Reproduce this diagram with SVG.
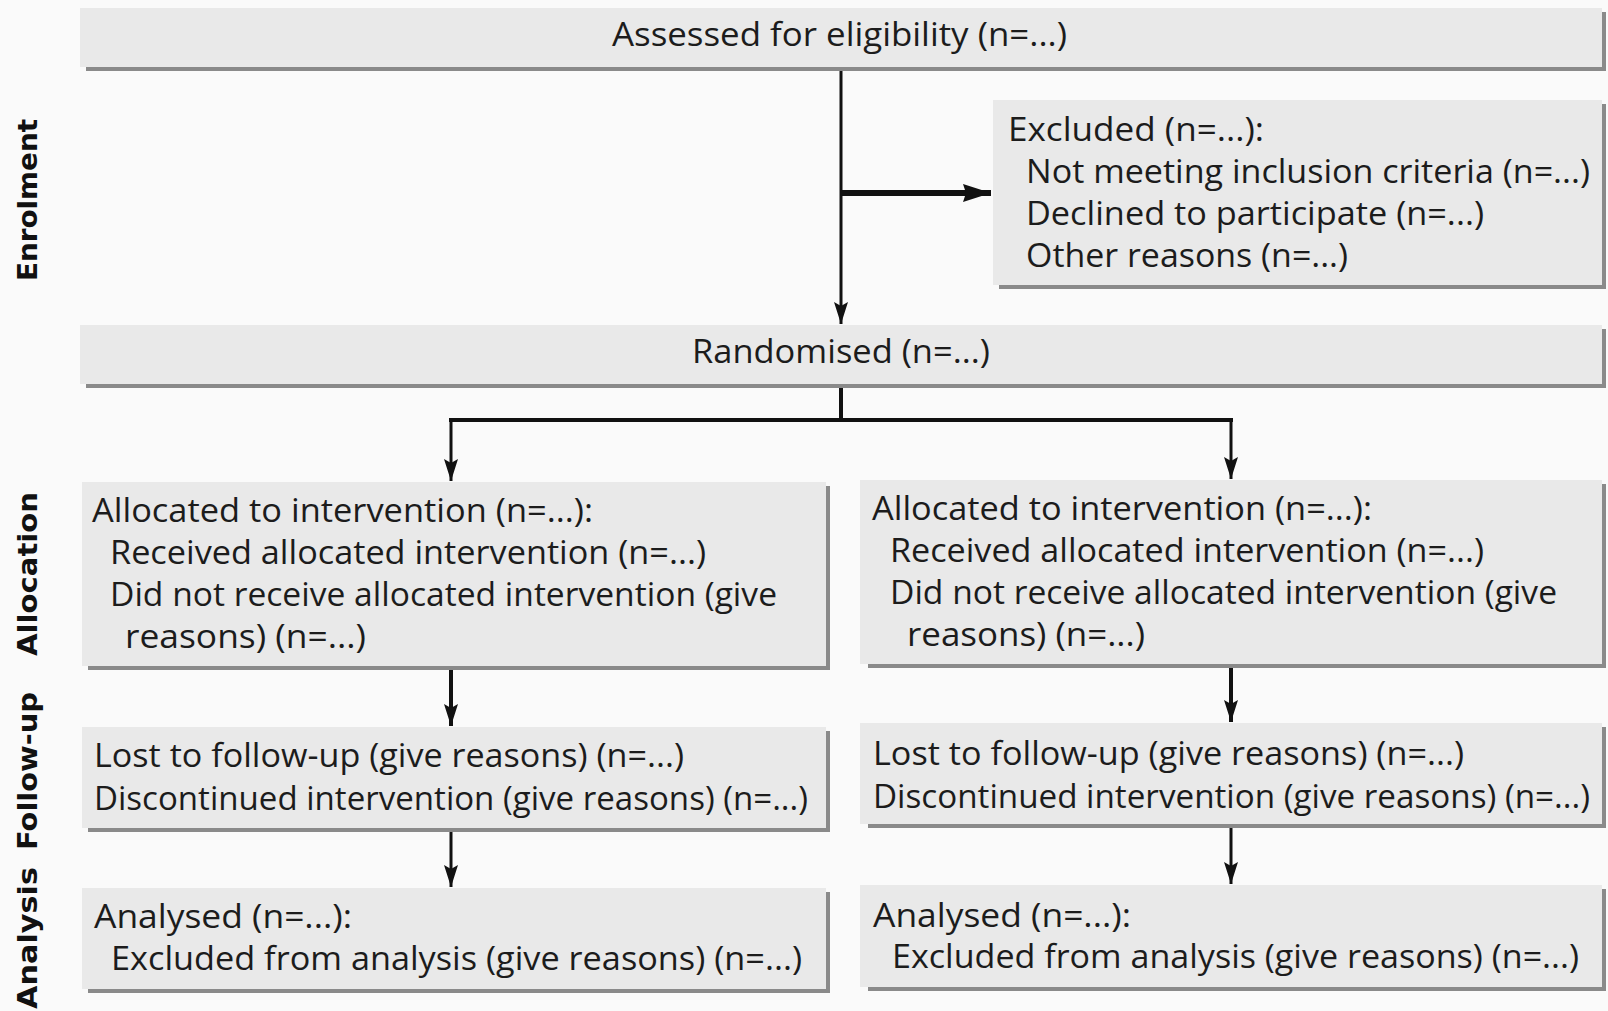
<svg xmlns="http://www.w3.org/2000/svg" width="1608" height="1011" viewBox="0 0 1608 1011">
<defs>
<marker id="ah" markerUnits="userSpaceOnUse" markerWidth="24" markerHeight="16" refX="22" refY="8" orient="auto">
<path d="M0,1 L22,8 L0,15 L4,8 Z" fill="#111"/>
</marker>
<marker id="ahb" markerUnits="userSpaceOnUse" markerWidth="30" markerHeight="20" refX="28" refY="10" orient="auto">
<path d="M0,1 L28,10 L0,19 L3,10 Z" fill="#111"/>
</marker>
</defs>
<style>
.bx{fill:#e9e9e9}
.sh{fill:#8a8a8a}
.t{font-family:"Open Sans","Liberation Sans",sans-serif;font-size:32px;fill:#1c1c1c}
.side{font-family:"DejaVu Sans",sans-serif;font-weight:bold;font-size:26px;fill:#111}
.ln{stroke:#111;fill:none;stroke-width:3}
.thick{stroke-width:4}
.heavy{stroke-width:6}
</style>
<rect width="1608" height="1011" fill="#fafafa"/>

<g id="side-labels">
<text class="side" transform="translate(37,200) rotate(-90)" text-anchor="middle" textLength="162" lengthAdjust="spacingAndGlyphs">Enrolment</text>
<text class="side" transform="translate(37,574) rotate(-90)" text-anchor="middle" textLength="164" lengthAdjust="spacingAndGlyphs">Allocation</text>
<text class="side" transform="translate(37,771) rotate(-90)" text-anchor="middle" textLength="158" lengthAdjust="spacingAndGlyphs">Follow-up</text>
<text class="side" transform="translate(37,938) rotate(-90)" text-anchor="middle" textLength="142" lengthAdjust="spacingAndGlyphs">Analysis</text>
</g>

<g id="assessed">
<rect class="sh" x="86" y="12" width="1520" height="59"/>
<rect class="bx" x="80" y="8" width="1522" height="59"/>
<text class="t" x="612" y="46" textLength="455" lengthAdjust="spacingAndGlyphs">Assessed for eligibility (n=...)</text>
</g>

<g id="excluded">
<rect class="sh" x="999" y="104" width="607" height="185"/>
<rect class="bx" x="993" y="100" width="609" height="185"/>
<text class="t" x="1008" y="141" textLength="256" lengthAdjust="spacingAndGlyphs">Excluded (n=...):</text>
<text class="t" x="1026" y="183" textLength="564" lengthAdjust="spacingAndGlyphs">Not meeting inclusion criteria (n=...)</text>
<text class="t" x="1026" y="225" textLength="458" lengthAdjust="spacingAndGlyphs">Declined to participate (n=...)</text>
<text class="t" x="1026" y="267" textLength="322" lengthAdjust="spacingAndGlyphs">Other reasons (n=...)</text>
</g>

<g id="randomised">
<rect class="sh" x="86" y="329" width="1520" height="59"/>
<rect class="bx" x="80" y="325" width="1522" height="59"/>
<text class="t" x="692" y="363" textLength="298" lengthAdjust="spacingAndGlyphs">Randomised (n=...)</text>
</g>

<g id="allocation-left">
<rect class="sh" x="88" y="486" width="742" height="184"/>
<rect class="bx" x="82" y="482" width="744" height="184"/>
<text class="t" x="92" y="522" textLength="501" lengthAdjust="spacingAndGlyphs">Allocated to intervention (n=...):</text>
<text class="t" x="110" y="564" textLength="596" lengthAdjust="spacingAndGlyphs">Received allocated intervention (n=...)</text>
<text class="t" x="110" y="606" textLength="667" lengthAdjust="spacingAndGlyphs">Did not receive allocated intervention (give</text>
<text class="t" x="125" y="648" textLength="241" lengthAdjust="spacingAndGlyphs">reasons) (n=...)</text>
</g>

<g id="allocation-right">
<rect class="sh" x="868" y="484" width="738" height="184"/>
<rect class="bx" x="860" y="480" width="742" height="184"/>
<text class="t" x="872" y="520" textLength="500" lengthAdjust="spacingAndGlyphs">Allocated to intervention (n=...):</text>
<text class="t" x="890" y="562" textLength="594" lengthAdjust="spacingAndGlyphs">Received allocated intervention (n=...)</text>
<text class="t" x="890" y="604" textLength="667" lengthAdjust="spacingAndGlyphs">Did not receive allocated intervention (give</text>
<text class="t" x="907" y="646" textLength="238" lengthAdjust="spacingAndGlyphs">reasons) (n=...)</text>
</g>

<g id="followup-left">
<rect class="sh" x="88" y="731" width="742" height="101"/>
<rect class="bx" x="82" y="727" width="744" height="101"/>
<text class="t" x="94" y="767" textLength="590" lengthAdjust="spacingAndGlyphs">Lost to follow-up (give reasons) (n=...)</text>
<text class="t" x="94" y="810" textLength="714" lengthAdjust="spacingAndGlyphs">Discontinued intervention (give reasons) (n=...)</text>
</g>

<g id="followup-right">
<rect class="sh" x="868" y="727" width="738" height="101"/>
<rect class="bx" x="860" y="723" width="742" height="101"/>
<text class="t" x="873" y="765" textLength="591" lengthAdjust="spacingAndGlyphs">Lost to follow-up (give reasons) (n=...)</text>
<text class="t" x="873" y="808" textLength="717" lengthAdjust="spacingAndGlyphs">Discontinued intervention (give reasons) (n=...)</text>
</g>

<g id="analysis-left">
<rect class="sh" x="88" y="892" width="742" height="101"/>
<rect class="bx" x="82" y="888" width="744" height="101"/>
<text class="t" x="94" y="928" textLength="258" lengthAdjust="spacingAndGlyphs">Analysed (n=...):</text>
<text class="t" x="111" y="970" textLength="691" lengthAdjust="spacingAndGlyphs">Excluded from analysis (give reasons) (n=...)</text>
</g>

<g id="analysis-right">
<rect class="sh" x="868" y="889" width="738" height="102"/>
<rect class="bx" x="860" y="885" width="742" height="102"/>
<text class="t" x="873" y="927" textLength="258" lengthAdjust="spacingAndGlyphs">Analysed (n=...):</text>
<text class="t" x="892" y="968" textLength="687" lengthAdjust="spacingAndGlyphs">Excluded from analysis (give reasons) (n=...)</text>
</g>

<g id="connectors">
<line class="ln" x1="841" y1="71" x2="841" y2="324" marker-end="url(#ah)"/>
<line class="ln heavy" x1="841" y1="193" x2="991" y2="193" marker-end="url(#ahb)"/>
<line class="ln thick" x1="841" y1="388" x2="841" y2="420"/>
<line class="ln thick" x1="449" y1="420" x2="1233" y2="420"/>
<line class="ln" x1="451" y1="420" x2="451" y2="481" marker-end="url(#ah)"/>
<line class="ln" x1="1231" y1="420" x2="1231" y2="479" marker-end="url(#ah)"/>
<line class="ln thick" x1="451" y1="670" x2="451" y2="726" marker-end="url(#ah)"/>
<line class="ln thick" x1="1231" y1="668" x2="1231" y2="722" marker-end="url(#ah)"/>
<line class="ln" x1="451" y1="832" x2="451" y2="887" marker-end="url(#ah)"/>
<line class="ln" x1="1231" y1="828" x2="1231" y2="884" marker-end="url(#ah)"/>
</g>
</svg>
